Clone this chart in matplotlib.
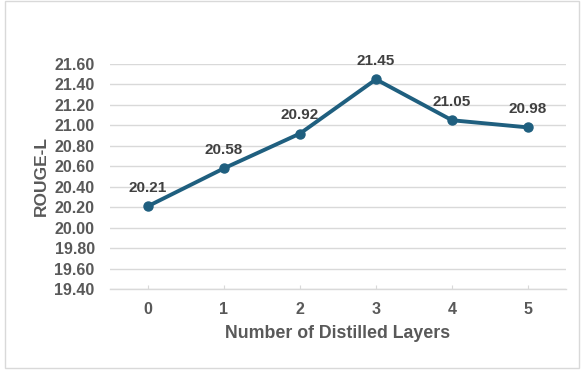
import matplotlib.pyplot as plt
from matplotlib.patches import Rectangle

layers = [0, 1, 2, 3, 4, 5]
rouge_l = [20.21, 20.58, 20.92, 21.45, 21.05, 20.98]
yticks = [19.40, 19.60, 19.80, 20.00, 20.20, 20.40, 20.60, 20.80, 21.00, 21.20, 21.40, 21.60]

line_color = '#1f5f7f'
tick_color = '#595959'
grid_color = '#d9d9d9'

plt.rcParams['font.family'] = ['Liberation Sans', 'DejaVu Sans']

fig = plt.figure(figsize=(5.81, 3.71), dpi=100)
ax = fig.add_axes([110 / 581, 1 - 289 / 371, 456 / 581, 225 / 371])

ax.plot(layers, rouge_l, color=line_color, lw=2.8, marker='o', ms=6.5, zorder=3)
for x, y in zip(layers, rouge_l):
    ax.annotate(f'{y:.2f}', (x, y), xytext=(0, 8), textcoords='offset points',
                ha='center', va='bottom', fontsize=11, fontweight='bold', color='#404040')

ax.set_xlim(-0.5, 5.5)
ax.set_ylim(19.4, 21.6)
ax.set_xticks(layers)
ax.set_yticks(yticks)
ax.set_yticklabels([f'{v:.2f}' for v in yticks])
ax.grid(axis='y', color=grid_color, lw=1)
ax.set_axisbelow(True)

for side in ['top', 'right', 'left']:
    ax.spines[side].set_visible(False)
ax.spines['bottom'].set_color(grid_color)
ax.spines['bottom'].set_linewidth(1)

ax.tick_params(axis='y', length=0, pad=11, labelsize=11.5, labelcolor=tick_color)
ax.tick_params(axis='x', direction='in', length=3, color=grid_color, pad=9,
               labelsize=11.5, labelcolor=tick_color)
for lbl in ax.get_xticklabels() + ax.get_yticklabels():
    lbl.set_fontweight('bold')

ax.set_xlabel('Number of Distilled Layers', fontsize=12.8, fontweight='bold',
              color=tick_color, labelpad=6)
ax.set_ylabel('ROUGE-L', fontsize=12.5, fontweight='bold', color=tick_color, labelpad=4)

# light frame around the whole chart
fig.patches.append(Rectangle((4.5 / 581, 3 / 371), 574 / 581, 367 / 371,
                             transform=fig.transFigure, fill=False,
                             edgecolor='#d9d9d9', lw=1))

fig.savefig('out.png', dpi=100)
